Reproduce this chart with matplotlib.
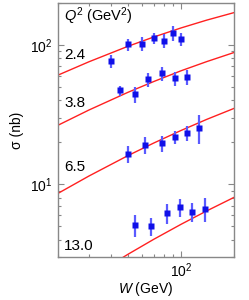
import matplotlib
matplotlib.use("Agg")
import matplotlib.pyplot as plt
from matplotlib.ticker import LogLocator, NullFormatter

plt.rcParams['font.family'] = ['Liberation Sans', 'DejaVu Sans']
plt.rcParams['mathtext.fontset'] = 'custom'
plt.rcParams['mathtext.rm'] = 'Liberation Sans'
plt.rcParams['mathtext.it'] = 'Liberation Sans:italic'

# Data points: (W [GeV], sigma [nb], error [nb]) per Q^2
q2_labels = ["2.4", "3.8", "6.5", "13.0"]

w_24 = [40, 50, 60, 70, 80, 90, 100]
s_24 = [76.4, 101, 101.7, 112, 107, 122, 110]
e_24 = [8.4, 10, 12, 10.5, 12, 14.5, 12.5]

w_38 = [45, 55, 65.3, 77.8, 92.9, 108.8]
s_38 = [47.1, 44.1, 56.7, 62.4, 57.4, 58.9]
e_38 = [4.0, 5.7, 6.6, 7.3, 6.9, 7.1]

w_65 = [50, 62.8, 77.9, 92.9, 108.8, 126.2]
s_65 = [16.4, 19.1, 19.6, 21.8, 23.3, 25.4]
e_65 = [2.3, 2.7, 2.7, 2.4, 2.8, 6.0]

w_130 = [55, 67.8, 82.8, 98.3, 116.2, 136.5]
s_130 = [5.09, 4.98, 6.18, 6.86, 6.34, 6.66]
e_130 = [0.92, 0.70, 1.0, 1.03, 0.95, 1.33]

# Model curves (red lines)
w_curve = [20, 30, 50, 70, 100, 140, 200]
c_24 = [60.7, 75.7, 97.8, 114.0, 132.4, 150.7, 170.6]
c_38 = [26.5, 34.1, 45.7, 54.6, 65.2, 75.9, 88.2]
c_65 = [8.59, 11.45, 16.05, 19.75, 24.3, 29.2, 35.0]
c_130 = [1.51, 2.11, 3.14, 4.02, 5.15, 6.43, 8.04]

fig = plt.figure(figsize=(2.49, 3.0), dpi=100)
ax = fig.add_axes([58/249, 43/300, 176/249, 254/300])

for c in (c_24, c_38, c_65, c_130):
    ax.plot(w_curve, c, color='#ff2020', lw=1.0, zorder=2)

for w, s, e in ((w_24, s_24, e_24), (w_38, s_38, e_38),
                (w_65, s_65, e_65), (w_130, s_130, e_130)):
    ax.errorbar(w, s, yerr=e, fmt='none', ecolor='#5a5aff', elinewidth=1.6,
                capsize=0, zorder=3)
    ax.plot(w, s, 's', color='#1010e8', ms=4.2, mec='none', zorder=4)

ax.set_xscale('log')
ax.set_yscale('log')
ax.set_xlim(20, 200)
ax.set_ylim(3, 200)

ax.xaxis.set_major_locator(LogLocator(base=10, numticks=10))
ax.xaxis.set_minor_locator(LogLocator(base=10, subs=range(2, 10), numticks=20))
ax.xaxis.set_minor_formatter(NullFormatter())
ax.yaxis.set_minor_formatter(NullFormatter())

for sp in ax.spines.values():
    sp.set_color('#888888')
    sp.set_linewidth(1.0)
ax.tick_params(which='both', direction='in', top=True, right=True,
               colors='#888888', labelcolor='black', labelsize=10)
ax.tick_params(which='major', length=4, width=0.8, pad=4)
ax.tick_params(axis='x', which='major', pad=3)
ax.tick_params(which='minor', length=2.5, width=0.8)

ax.set_xlabel(r'$W$ (GeV)', fontsize=10, labelpad=0)
ax.set_ylabel('σ (nb)', fontsize=10, labelpad=4)

ax.text(0.034, 0.949, r'$Q^2$ (GeV$^2$)', transform=ax.transAxes,
        fontsize=10.5, va='center', ha='left')
for lab, yf in zip(q2_labels, [0.795, 0.606, 0.354, 0.043]):
    ax.text(0.034, yf, lab, transform=ax.transAxes, fontsize=11,
            va='center', ha='left')

fig.savefig('out.png', dpi=100)
